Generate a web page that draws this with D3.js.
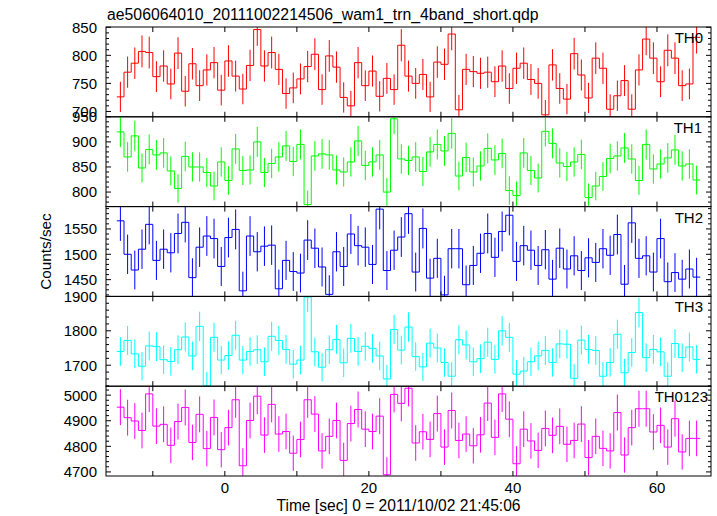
<!DOCTYPE html>
<html><head><meta charset="utf-8">
<script src="https://cdn.jsdelivr.net/npm/d3@7"></script>
<style>body{margin:0;background:#fff}svg{display:block}text{font-family:"Liberation Sans",Arial,Helvetica,sans-serif}</style>
</head><body>
<script>
const titleText = "ae506064010_20111002214506_wam1_trn_4band_short.qdp";
const xLabel = "Time [sec] 0 = 2011/10/02 21:45:06";
const yLabel = "Counts/sec";
const binStart = -15, binWidth = 1;
const panelNames = ["TH0","TH1","TH2","TH3","TH0123"];
const panelColors = ["#ff0000","#00ff00","#0000ff","#00ffff","#ff00ff"];
const xDomain = [-16.5, 67.5];
const xTicks = [-10,0,10,20,30,40,50,60];
const xTickLabels = [0,20,40,60];

const th0 = [726,770,786,807,805,762,781,749,804,736,785,746,774,787,738,790,763,740,782,846,781,805,775,732,742,758,780,802,739,799,779,725,710,787,746,772,727,759,739,818,763,750,766,726,788,784,838,703,775,771,768,770,753,781,741,777,786,757,750,694,783,741,722,803,765,724,795,777,704,728,755,704,774,829,795,753,809,795,746,749,832];
const th1 = [920,870,912,848,885,874,878,842,807,871,850,850,839,812,860,823,886,843,844,900,839,857,870,892,861,895,775,872,876,874,844,840,860,902,853,860,874,800,946,866,863,870,841,880,895,882,917,832,869,840,852,887,864,877,803,793,878,843,828,921,897,858,851,860,875,789,812,831,867,872,888,866,823,895,846,856,868,884,852,856,824];
const th2 = [1566,1500,1469,1510,1559,1488,1510,1503,1541,1563,1454,1514,1536,1531,1476,1533,1549,1428,1536,1505,1516,1518,1432,1488,1466,1463,1528,1512,1475,1421,1505,1476,1540,1517,1514,1480,1589,1468,1508,1534,1580,1465,1551,1453,1492,1420,1511,1511,1440,1478,1502,1541,1494,1545,1577,1486,1517,1508,1478,1509,1451,1512,1471,1497,1468,1493,1484,1511,1498,1539,1441,1562,1492,1497,1465,1531,1446,1464,1451,1471,1455];
const th3 = [1740,1772,1733,1697,1756,1754,1716,1711,1745,1782,1727,1813,1640,1781,1715,1728,1787,1715,1740,1745,1710,1784,1772,1746,1703,1715,1898,1739,1694,1745,1775,1707,1778,1740,1755,1749,1727,1660,1804,1744,1811,1725,1695,1764,1750,1708,1668,1774,1759,1710,1719,1767,1717,1800,1781,1674,1683,1710,1727,1743,1708,1762,1761,1662,1773,1746,1743,1668,1708,1790,1678,1737,1853,1722,1746,1739,1668,1763,1722,1753,1717];
const th0123 = [4953,4912,4899,4862,5005,4879,4886,4804,4897,4952,4815,4925,4791,4913,4787,4873,4982,4724,4901,4996,4844,4964,4848,4858,4773,4827,4982,4926,4782,4839,4901,4745,4889,4944,4867,4858,4918,4689,5003,4968,5027,4813,4857,4827,4928,4797,4940,4823,4848,4802,4845,4969,4835,5005,4906,4732,4867,4821,4784,4870,4843,4878,4808,4823,4887,4756,4839,4792,4782,4932,4766,4873,4947,4947,4856,4882,4797,4908,4778,4831,4831];

const series = [th0, th1, th2, th3, th0123];
const yDomains = [[690.5,850.5],[771,950],[1417,1594],[1639,1900],[4684,5035]];
const yTickVals = [[850,800,750,700],[950,900,850,800],[1550,1500,1450],[1900,1800,1700],[5000,4900,4800,4700]];
const yMinorStep = [10,10,10,20,20];
const labelEnd = [703,702,703,703,708];

const W = 717, H = 516;
const L = 106, R = 711, T = 27, B = 476;
const ph = (B - T) / 5;

const svg = d3.select("body").append("svg").attr("width", W).attr("height", H);
const x = d3.scaleLinear().domain(xDomain).range([L, R]);

svg.append("text").attr("x", 107).attr("y", 20).attr("font-size", 15.8).attr("fill", "#000").text(titleText);

series.forEach((vals, k) => {
  const top = T + k * ph, bot = top + ph;
  const y = d3.scaleLinear().domain(yDomains[k]).range([bot, top]);
  const g = svg.append("g");
  const cid = "clip" + k;
  svg.append("clipPath").attr("id", cid).append("rect").attr("x", L).attr("y", top).attr("width", R - L).attr("height", ph);
  const data = vals.map((v, i) => ({t: binStart + binWidth * (i + 0.5), v: v, e: Math.sqrt(v)}));
  const pts = [];
  data.forEach(d => { pts.push([d.t - binWidth / 2, d.v]); pts.push([d.t + binWidth / 2, d.v]); });
  const line = d3.line().x(p => x(p[0])).y(p => y(p[1]));
  const dg = g.append("g").attr("clip-path", `url(#${cid})`);
  dg.selectAll("line.err").data(data).enter().append("line")
    .attr("x1", d => x(d.t)).attr("x2", d => x(d.t))
    .attr("y1", d => y(d.v - d.e)).attr("y2", d => y(d.v + d.e))
    .attr("stroke", panelColors[k]).attr("stroke-width", 1);
  dg.append("path").attr("d", line(pts)).attr("fill", "none").attr("stroke", panelColors[k]).attr("stroke-width", 1);

  const minors = d3.range(Math.ceil(yDomains[k][0] / yMinorStep[k]) * yMinorStep[k], yDomains[k][1] + 0.001, yMinorStep[k]);
  const tg = g.append("g").attr("stroke", "#000").attr("stroke-width", 1);
  minors.forEach(v => {
    const major = yTickVals[k].includes(v) || (v % (yMinorStep[k] * 5) === 0);
    const len = major ? 5 : 3;
    tg.append("line").attr("x1", L).attr("x2", L + len).attr("y1", y(v)).attr("y2", y(v));
    tg.append("line").attr("x1", R).attr("x2", R - len).attr("y1", y(v)).attr("y2", y(v));
  });
  xTicks.forEach(t => {
    tg.append("line").attr("x1", x(t)).attr("x2", x(t)).attr("y1", bot).attr("y2", bot - 5);
    tg.append("line").attr("x1", x(t)).attr("x2", x(t)).attr("y1", top).attr("y2", top + 5);
  });
  yTickVals[k].forEach(v => {
    g.append("text").attr("x", 97).attr("y", y(v)).attr("dy", "0.36em").attr("text-anchor", "end")
      .attr("font-size", 15).attr("fill", "#000").text(v);
  });
  g.append("rect").attr("x", L).attr("y", top).attr("width", R - L).attr("height", ph)
    .attr("fill", "none").attr("stroke", "#000").attr("stroke-width", 1);
  g.append("text").attr("x", labelEnd[k]).attr("y", top + 16).attr("text-anchor", "end")
    .attr("font-size", 15).attr("fill", "#000").text(panelNames[k]);
});

xTickLabels.forEach(t => {
  svg.append("text").attr("x", x(t)).attr("y", 493).attr("text-anchor", "middle").attr("font-size", 15).attr("fill", "#000").text(t);
});
svg.append("text").attr("x", 398.5).attr("y", 511).attr("text-anchor", "middle").attr("font-size", 15.6).attr("fill", "#000").text(xLabel);
svg.append("text").attr("transform", "translate(51,251.5) rotate(-90)").attr("text-anchor", "middle").attr("font-size", 15.3).attr("fill", "#000").text(yLabel);
</script>
</body></html>
